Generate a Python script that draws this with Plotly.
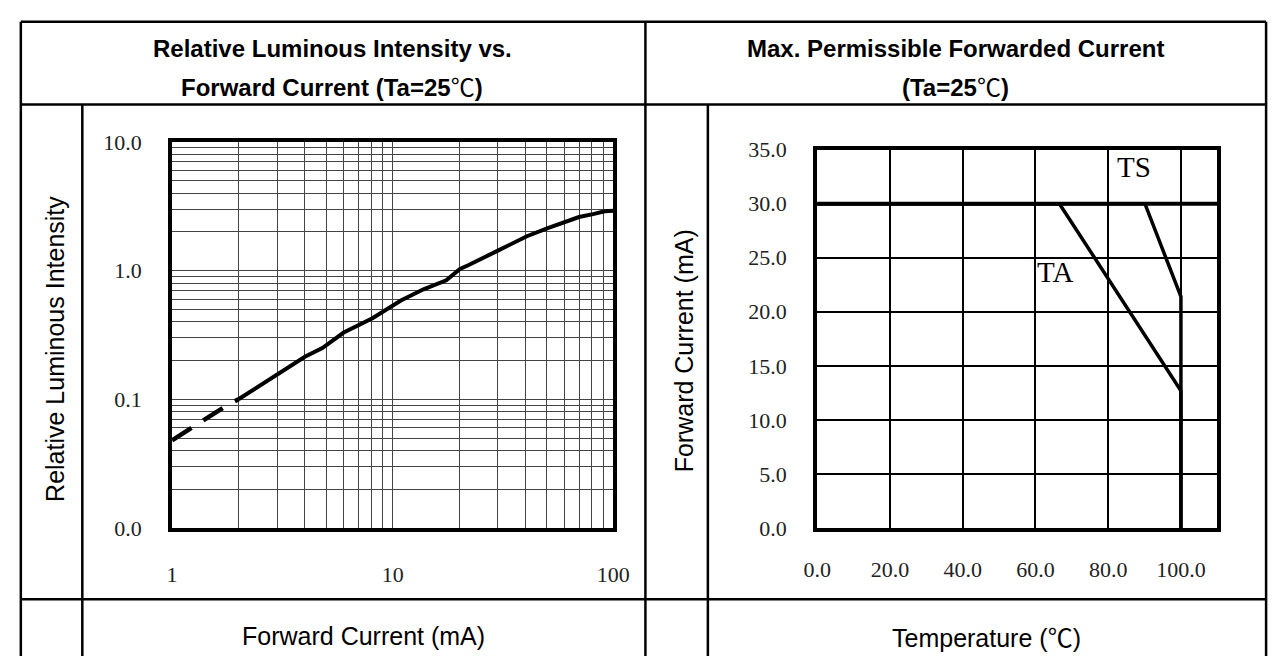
import plotly.graph_objects as go

W, H = 1287, 669

# ---------------- data ----------------
# Left chart: Relative luminous intensity vs forward current (log-log)
cur_solid = [2, 3, 4, 4.8, 6, 8.1, 9.2, 10.9, 13.8, 17.5, 20.2, 22, 30, 40.6, 50.5, 60.5, 70, 81, 91.6, 100]
rel_solid = [0.1, 0.156, 0.214, 0.25, 0.33, 0.427, 0.487, 0.585, 0.716, 0.84, 1.03, 1.10, 1.43, 1.85, 2.14, 2.40, 2.61, 2.75, 2.89, 2.92]
cur_dash = [1, 1.22, 1.74, 2]
rel_dash = [0.048, 0.060, 0.088, 0.1]
left_ytickvals = [0.01, 0.1, 1, 10]
left_yticktext = ["0.0", "0.1", "1.0", "10.0"]
left_xtick_major = [1, 10, 100]

# Right chart: max permissible forward current vs temperature
temp_ta = [0, 66.6, 100, 100]
if_ta = [30, 30, 12.7, 0]
temp_ts = [0, 90.1, 100, 100]
if_ts = [30, 30, 21.4, 0]
temp_limit = [0, 110]
if_limit = [30, 30]
curve_labels = ["TA", "TS"]
label_pos_x = [65.4, 87.2]
label_pos_y = [23.7, 33.4]

# ---------------- layout helpers ----------------
def px(x):
    return x / W

def py(y):
    return 1 - y / H

fig = go.Figure()

# left chart traces
fig.add_trace(go.Scatter(x=cur_dash, y=rel_dash, mode="lines", xaxis="x", yaxis="y",
                         line=dict(color="black", width=4.5, dash="23px,14px"), showlegend=False))
fig.add_trace(go.Scatter(x=cur_solid, y=rel_solid, mode="lines", xaxis="x", yaxis="y",
                         line=dict(color="black", width=4), showlegend=False))

# right chart traces
fig.add_trace(go.Scatter(x=temp_limit, y=if_limit, mode="lines", xaxis="x2", yaxis="y2",
                         line=dict(color="black", width=4), showlegend=False))
fig.add_trace(go.Scatter(x=temp_ta, y=if_ta, mode="lines", xaxis="x2", yaxis="y2",
                         line=dict(color="black", width=3.5), showlegend=False))
fig.add_trace(go.Scatter(x=temp_ts, y=if_ts, mode="lines", xaxis="x2", yaxis="y2",
                         line=dict(color="black", width=3.5), showlegend=False))

# minor log grid values
grid_vals_x = [m * 10 ** e for e in range(0, 2) for m in range(1, 10)] + [100]
grid_text_x = [str(v) if v in left_xtick_major else "" for v in grid_vals_x]
grid_vals_y = [round(m * 10 ** e, 4) for e in range(-2, 1) for m in range(1, 10)] + [10]
grid_text_y = [left_yticktext[left_ytickvals.index(v)] if v in left_ytickvals else "" for v in grid_vals_y]

serif = dict(family="Liberation Serif, Times New Roman, serif", size=22, color="#222")

fig.update_layout(
    width=W, height=H, margin=dict(l=0, r=0, t=0, b=0),
    paper_bgcolor="white", plot_bgcolor="white",
    xaxis=dict(type="log", range=[0, 2], domain=[px(162), px(614)],
               tickvals=grid_vals_x, ticktext=grid_text_x,
               showgrid=True, gridcolor="#444", gridwidth=1,
               showline=True, linecolor="black", linewidth=4, mirror=True,
               ticks="outside", ticklen=24, tickcolor="rgba(0,0,0,0)",
               tickfont=serif, zeroline=False, anchor="y"),
    yaxis=dict(type="log", range=[-2, 1], domain=[py(536), py(135)],
               tickvals=grid_vals_y, ticktext=grid_text_y,
               showgrid=True, gridcolor="#444", gridwidth=1,
               showline=True, linecolor="black", linewidth=4, mirror=True,
               ticks="outside", ticklen=22, tickcolor="rgba(0,0,0,0)",
               tickfont=serif, zeroline=False, anchor="x"),
    xaxis2=dict(range=[0, 110], domain=[px(823), px(1233)],
                tickvals=[0, 20, 40, 60, 80, 100], tickformat=".1f",
                showgrid=True, gridcolor="black", gridwidth=1.6,
                showline=True, linecolor="black", linewidth=4, mirror=True,
                ticks="outside", ticklen=19, tickcolor="rgba(0,0,0,0)",
                tickfont=serif, zeroline=False, anchor="y2"),
    yaxis2=dict(range=[0, 35], domain=[py(536), py(143)],
                dtick=5, tickformat=".1f",
                showgrid=True, gridcolor="black", gridwidth=1.6,
                showline=True, linecolor="black", linewidth=4, mirror=True,
                ticks="outside", ticklen=22, tickcolor="rgba(0,0,0,0)",
                tickfont=serif, zeroline=False, anchor="x2"),
)

# ---------------- table lines ----------------
lw = 2.5
table_h = [(7, 1283, 10), (7, 1283, 96), (7, 1283, 610)]
table_v = [(7, 10, 669), (1283, 10, 669), (647, 10, 669), (70, 96, 669), (711, 96, 669)]
for x0, x1, y in table_h:
    fig.add_shape(type="line", xref="paper", yref="paper", x0=px(x0), x1=px(x1), y0=py(y), y1=py(y),
                  line=dict(color="black", width=lw))
for x, y0, y1 in table_v:
    fig.add_shape(type="line", xref="paper", yref="paper", x0=px(x), x1=px(x), y0=py(y0), y1=py(y1),
                  line=dict(color="black", width=lw))

sans = "Liberation Sans, Arial, sans-serif"
title_font = dict(family=sans, size=24, color="black")
label_font = dict(family=sans, size=25, color="black")
deg = '<span style="font-family:Noto Sans CJK SC;font-weight:normal">℃</span>'

def ann(x, y, text, font, angle=0):
    fig.add_annotation(x=px(x), y=py(y), xref="paper", yref="paper", text=text, showarrow=False,
                       font=font, textangle=angle, xanchor="center", yanchor="middle")

ann(326, 38, "<b>Relative Luminous Intensity vs.</b>", title_font)
ann(326, 76, "<b>Forward Current (Ta=25</b>" + deg + "<b>)</b>", title_font)
ann(965, 38, "<b>Max. Permissible Forwarded Current</b>", title_font)
ann(965, 76, "<b>(Ta=25</b>" + deg + "<b>)</b>", title_font)

ann(42, 350, "Relative Luminous Intensity", label_font, -90)
ann(686, 352, "Forward Current (mA)", label_font, -90)
ann(358, 648, "Forward Current (mA)", label_font)
ann(997, 648, "Temperature (" + deg + ")", label_font)

for t, lx, ly in zip(curve_labels, label_pos_x, label_pos_y):
    fig.add_annotation(x=lx, y=ly, xref="x2", yref="y2", text=t, showarrow=False,
                       font=dict(family="Liberation Serif, Times New Roman, serif", size=29, color="black"))

fig.write_html("out.html")
